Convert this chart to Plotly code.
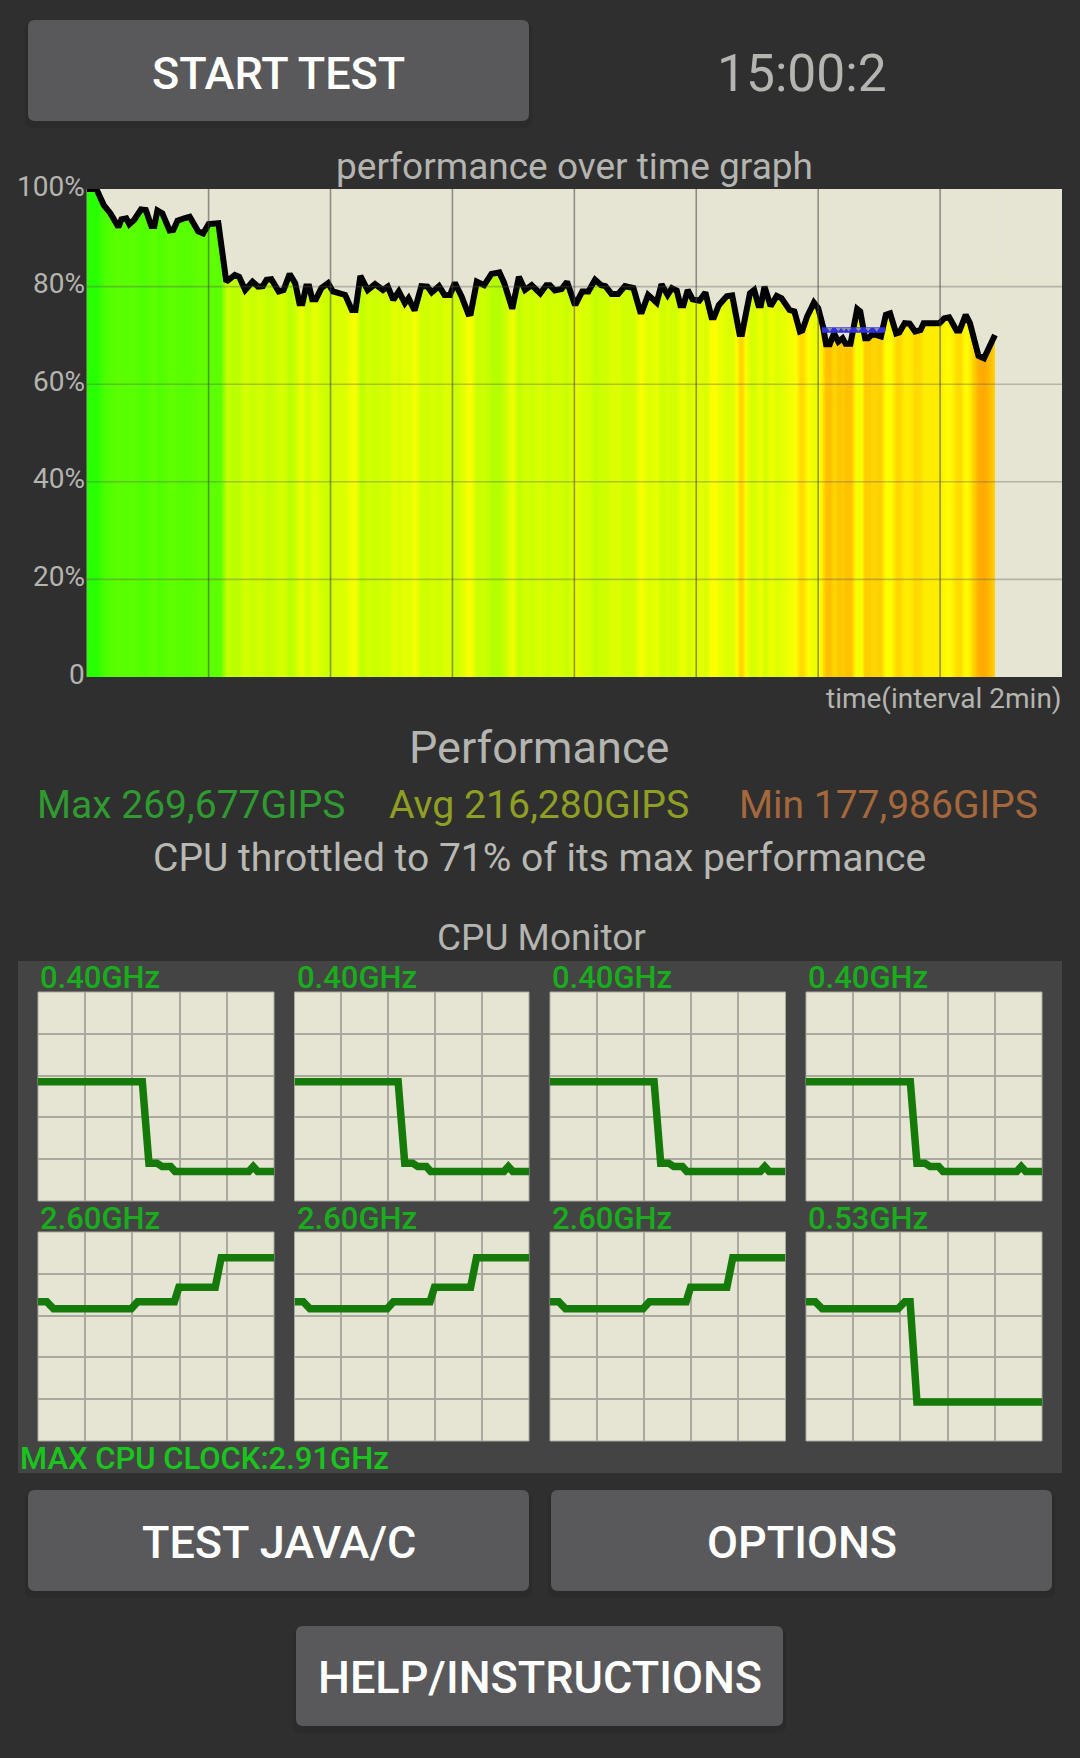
import plotly.graph_objects as go

# ---------- data ----------
time_min = [0,.16,.28,.39,.52,.57,.65,.70,.78,.89,.97,1.06,1.11,1.16,1.24,1.36,1.42,1.49,1.60,1.69,1.83,1.91,2.0,2.16,2.29,2.43,2.50,2.60,2.72,2.81,2.89,2.95,3.03,3.15,3.23,3.33,3.42,3.49,3.54,3.60,3.65,3.70,3.76,3.85,3.96,4.04,4.24,4.35,4.41,4.49,4.61,4.73,4.86,4.94,5.03,5.12,5.22,5.28,5.38,5.49,5.59,5.66,5.78,5.87,5.96,6.04,6.15,6.26,6.30,6.40,6.52,6.64,6.77,6.85,6.97,6.99,7.09,7.19,7.30,7.40,
            7.44,7.54,7.60,7.68,7.79,7.88,8.0,8.03,8.13,8.23,8.34,8.44,8.51,8.61,8.72,8.83,8.97,9.08,9.11,9.21,9.35,9.43,9.53,9.60,9.68,9.74,9.79,9.86,9.94,10.05,10.15,10.25,10.29,10.37,10.50,10.59,10.71,10.75,10.88,10.95,11.02,11.06,11.12,11.22,11.32,11.40,11.53,11.61,11.70,11.74,11.82,11.93,12.0,12.08,12.13,12.19,12.26,12.33,12.40,12.45,12.53,12.64,12.69,12.77,12.82,12.89,13.03,13.11,13.18,13.28,13.33,13.42,13.50,13.59,13.68,13.73,13.85,13.99,14.07,14.15,14.27,14.32,14.42,14.49,14.63,14.72,14.90]
perf_pct = [100,100,96.7,95.0,92.2,93.8,94.0,92.8,93.7,95.8,95.7,92.4,92.4,95.6,95.0,91.5,91.6,93.5,94.0,94.3,91.3,90.9,92.8,93.0,81.0,82.4,82.0,79.3,81.0,80.0,80.1,81.4,81.5,79.0,79.3,82.6,80.7,76.6,76.6,80.0,80.0,77.4,77.4,79.7,80.7,79.0,78.3,75.2,75.2,82.2,79.3,80.5,79.3,80.0,77.3,79.0,76.6,77.6,75.1,80.1,80.0,78.8,80.1,78.3,78.3,80.8,78.0,74.4,74.5,81.0,80.3,82.6,82.9,80.7,75.9,75.9,82.0,79.3,80.3,79.0,
            78.6,80.3,80.3,79.2,79.5,81.0,76.6,76.6,79.0,79.0,81.4,80.3,80.1,78.5,78.5,80.1,79.7,74.9,74.9,78.3,76.7,80.5,78.3,79.7,79.2,76.2,76.2,79.3,77.4,77.1,78.8,73.7,73.7,76.2,78.0,78.2,70.3,70.3,78.6,79.3,76.2,76.2,80.0,76.0,78.1,77.6,75.2,74.9,70.8,71.0,73.9,76.7,75.6,71.8,68.2,68.2,70.4,68.7,69.4,68.3,68.3,75.4,74.9,69.4,69.4,70.3,69.8,74.2,74.5,70.4,70.6,72.5,72.4,70.8,71.1,72.5,72.4,72.5,73.5,73.7,71.0,71.0,74.2,72.5,65.8,65.3,70.1]
throttle_t = [12.06, 13.10]
throttle_pct = [71.1, 71.1]
throttle_mark_t = [12.19, 12.33, 12.42, 12.50, 12.66, 12.82, 12.96]
throttle_mark_pct = [71.3] * 7
main_x_ticks = [2, 4, 6, 8, 10, 12, 14]
main_y_ticks = [20, 40, 60, 80]
main_y_labels = {100: "100%", 80: "80%", 60: "60%", 40: "40%", 20: "20%", 0: "0"}

little_pos = [0,44.2,47,50.4,52.6,56.2,58.1,89.3,91.2,93.1,100]
little_ghz = [1.66,1.66,.527,.527,.48,.48,.41,.41,.48,.41,.41]
big_pos = [0,3.7,6.6,39.5,42.2,57.8,59.7,75.1,77.6,100]
big_ghz = [1.94,1.94,1.84,1.84,1.94,1.94,2.14,2.14,2.55,2.55]
last_pos = [0,3.9,6.9,39,41.9,44.1,47,100]
last_ghz = [1.94,1.94,1.84,1.84,1.94,1.94,.544,.544]
cpu_labels = ["0.40GHz"]*4 + ["2.60GHz"]*3 + ["0.53GHz"]
cpu_series = [(little_pos, little_ghz)]*4 + [(big_pos, big_ghz)]*3 + [(last_pos, last_ghz)]
MAX_GHZ = 2.91

# ---------- page geometry ----------
W, H = 1080, 1758
BG, PANEL, BTN, CREAM = "#2f2f2f", "#444444", "#59595b", "#e6e5d3"
FONT = "Roboto"
def px(x): return x / W
def py(y): return 1 - y / H

fig = go.Figure()
shapes, notes = [], []

def round_rect(x0, y0, x1, y1, r, color):
    X0, X1, Y0, Y1 = px(x0), px(x1), py(y0), py(y1)
    rx, ry = r / W, r / H
    path = (f"M{X0+rx},{Y0} L{X1-rx},{Y0} Q{X1},{Y0} {X1},{Y0-ry} L{X1},{Y1+ry} Q{X1},{Y1} {X1-rx},{Y1} "
            f"L{X0+rx},{Y1} Q{X0},{Y1} {X0},{Y1+ry} L{X0},{Y0-ry} Q{X0},{Y0} {X0+rx},{Y0} Z")
    shapes.append(dict(type="path", xref="paper", yref="paper", path=path, fillcolor=color, line_width=0, layer="below"))

def text(s, x, y, size, color, anchor="center", weight=400):
    off = {"left": -2, "right": 2, "center": 0}[anchor]
    notes.append(dict(text=s, xref="paper", yref="paper", x=px(x + off), y=py(y), xanchor=anchor, yanchor="middle",
                      showarrow=False, font=dict(family=FONT, size=size, color=color, weight=weight)))

for (x0, y0, x1, y1, label, dy) in [(28, 20, 529, 121, "START TEST", 3), (28, 1490, 529, 1591, "TEST JAVA/C", 2),
                                    (551, 1490, 1052, 1591, "OPTIONS", 2), (296, 1626, 783, 1726, "HELP/INSTRUCTIONS", 1)]:
    round_rect(x0 - 3, y0 + 2, x1 + 3, y1 + 7, 8, "#2b2b2b")
    round_rect(x0, y0, x1, y1, 7, BTN)
    text(label, (x0 + x1) / 2, (y0 + y1) / 2 + dy, 45, "#ffffff", weight=500)

text("15:00:2", 802, 73, 51.5, "#b4b4b0")
text("performance over time graph", 574, 166, 37, "#b4b4b0")
text("time(interval 2min)", 1062, 698, 28, "#b4b4b0", anchor="right")
text("Performance", 539, 748, 45, "#b4b4b0")
text("Max 269,677GIPS", 36.5, 805, 39, "#2f9a30", anchor="left")
text("Avg 216,280GIPS", 389, 805, 39.2, "#8f9f24", anchor="left")
text("Min 177,986GIPS", 738.5, 805, 39, "#a5683c", anchor="left")
text("CPU throttled to 71% of its max performance", 539, 858, 39, "#b8b8b4")
text("CPU Monitor", 541, 937, 37, "#b4b4b0")
text("MAX CPU CLOCK:2.91GHz", 20, 1458, 31, "#19c41d", anchor="left", weight=500)

# CPU panel
shapes.append(dict(type="rect", xref="paper", yref="paper", x0=px(18), x1=px(1062), y0=py(1473), y1=py(961),
                   fillcolor=PANEL, line_width=0, layer="below"))

# ---------- main performance graph ----------
L, R, T, B = 86.7, 1062, 189, 677
fig.add_trace(go.Heatmap(x=time_min, y=[0, 100], z=[perf_pct, perf_pct], zmin=60, zmax=100, zsmooth="best",
                         showscale=False, hoverinfo="skip", xaxis="x", yaxis="y",
                         colorscale=[[0, "#ff9a00"], [.125, "#ffa800"], [.2, "#ffbf00"], [.275, "#ffdc00"],
                                     [.35, "#ffff00"], [.425, "#e6ff00"], [.525, "#c8ff00"], [.75, "#66ff00"],
                                     [.9, "#50ff00"], [1, "#28ff00"]]))
fig.add_trace(go.Scatter(x=time_min, y=[100] * len(time_min), mode="lines", line_width=0, hoverinfo="skip",
                         xaxis="x", yaxis="y"))
fig.add_trace(go.Scatter(x=time_min, y=perf_pct, mode="lines", line_width=0, hoverinfo="skip",
                         fill="tonexty", fillcolor=CREAM, xaxis="x", yaxis="y"))
# the part of the graph after the run stays empty
fig.add_trace(go.Scatter(x=[time_min[-1], 16, 16, time_min[-1]], y=[0, 0, 100, 100], mode="lines", line_width=0,
                         hoverinfo="skip", fill="toself", fillcolor=CREAM, xaxis="x", yaxis="y"))
fig.add_trace(go.Scatter(x=time_min, y=perf_pct, mode="lines", line=dict(color="#000000", width=6),
                         xaxis="x", yaxis="y"))
fig.add_trace(go.Scatter(x=throttle_t, y=throttle_pct, mode="lines", line=dict(color="#2f2fe0", width=5.5),
                         xaxis="x", yaxis="y"))
fig.add_trace(go.Scatter(x=throttle_mark_t, y=throttle_mark_pct, mode="markers", xaxis="x", yaxis="y",
                         marker=dict(symbol="triangle-down", size=5, color="#8f8fa0", line_width=0)))
for t in main_x_ticks:
    shapes.append(dict(type="line", xref="x", yref="y", x0=t, x1=t, y0=0, y1=100, layer="above",
                       line=dict(color="rgba(70,70,70,0.55)", width=1.6)))
for v in main_y_ticks:
    shapes.append(dict(type="line", xref="x", yref="y", x0=0, x1=16, y0=v, y1=v, layer="above",
                       line=dict(color="rgba(90,90,90,0.35)", width=1.6)))
for v, lab in main_y_labels.items():
    notes.append(dict(text=lab, xref="paper", yref="y", x=px(87), y=v, yshift=3, xanchor="right", yanchor="middle",
                      showarrow=False, font=dict(family=FONT, size=28, color="#b4b4b0")))

hidden = dict(showticklabels=False, ticks="", zeroline=False, fixedrange=True)
layout_axes = dict(
    xaxis=dict(domain=[px(L), px(R)], range=[0, 16], showgrid=False, anchor="y", **hidden),
    yaxis=dict(domain=[py(B), py(T)], range=[0, 100], showgrid=False, anchor="x", **hidden),
)

# ---------- CPU monitor small graphs ----------
cols = [(38, 274), (294.5, 529), (550, 785.5), (806, 1042)]
rows = [(992, 1201), (1232, 1441)]
for i in range(8):
    c, r = cols[i % 4], rows[i // 4]
    n = i + 2
    xk, yk = f"x{n}", f"y{n}"
    shapes.append(dict(type="rect", xref="paper", yref="paper", x0=px(c[0]), x1=px(c[1]), y0=py(r[1]), y1=py(r[0]),
                       fillcolor=CREAM, line=dict(color="#a9a99f", width=1), layer="below"))
    fig.add_trace(go.Scatter(x=cpu_series[i][0], y=cpu_series[i][1], mode="lines",
                             line=dict(color="#167a0a", width=7.5), xaxis=xk, yaxis=yk))
    frame = dict(showgrid=True, gridcolor="#a9a99f", gridwidth=1.6, showline=False)
    layout_axes[f"xaxis{n}"] = dict(domain=[px(c[0]), px(c[1])], range=[0, 100], anchor=yk,
                                    tickmode="array", tickvals=[20, 40, 60, 80], **frame, **hidden)
    layout_axes[f"yaxis{n}"] = dict(domain=[py(r[1]), py(r[0])], range=[0, MAX_GHZ], anchor=xk,
                                    tickmode="array", tickvals=[MAX_GHZ * k / 5 for k in range(1, 5)], **frame, **hidden)
    text(cpu_labels[i], c[0] + 2, r[0] - 14, 31, "#19ad1d", anchor="left", weight=500)

fig.update_layout(width=W, height=H, autosize=False, margin=dict(l=0, r=0, t=0, b=0), showlegend=False,
                  paper_bgcolor=BG, plot_bgcolor=CREAM, shapes=shapes, annotations=notes,
                  font=dict(family=FONT), **layout_axes)
fig.write_html("out.html", config=dict(displayModeBar=False),
               post_script="document.body.style.margin='0';document.body.style.overflow='hidden';")
